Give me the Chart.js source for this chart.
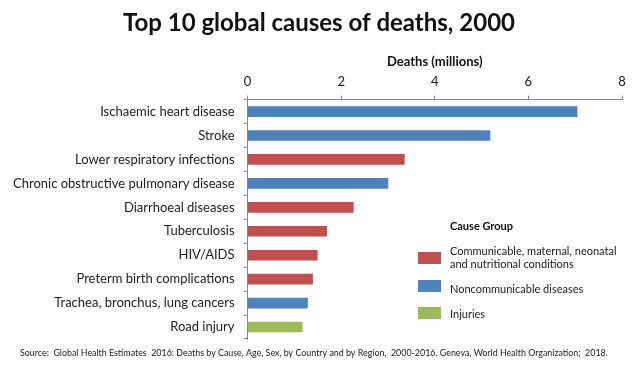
<!DOCTYPE html>
<html>
<head>
<meta charset="utf-8">
<script src="https://cdn.jsdelivr.net/npm/chart.js@4/dist/chart.umd.min.js"></script>
<style>
  html, body { margin: 0; padding: 0; background: #fff; }
  #wrap { width: 640px; height: 369px; position: relative; }
</style>
</head>
<body>
<div id="wrap"><canvas id="chart"></canvas></div>
<script>
const categories = [
  'Ischaemic heart disease',
  'Stroke',
  'Lower respiratory infections',
  'Chronic obstructive pulmonary disease',
  'Diarrhoeal diseases',
  'Tuberculosis',
  'HIV/AIDS',
  'Preterm birth complications',
  'Trachea, bronchus, lung cancers',
  'Road injury'
];
const deaths = [7.04, 5.18, 3.35, 3.0, 2.26, 1.69, 1.49, 1.39, 1.28, 1.17];
const causeGroup = ['ncd', 'ncd', 'cmnn', 'ncd', 'cmnn', 'cmnn', 'cmnn', 'cmnn', 'ncd', 'inj'];
const xTicks = [0, 2, 4, 6, 8];

const groupKeys = ['cmnn', 'ncd', 'inj'];
const groupLabels = [
  ['Communicable, maternal, neonatal', 'and nutritional conditions'],
  ['Noncommunicable diseases'],
  ['Injuries']
];
const groupColors = { cmnn: '#C0504D', ncd: '#4F81BD', inj: '#9BBB59' };

const FONT = 'Lato, "Open Sans", sans-serif';

// title, legend and source note drawn straight on the canvas
const extrasPlugin = {
  id: 'extras',
  afterDraw(chart) {
    const ctx = chart.ctx;
    ctx.save();
    ctx.fillStyle = '#111';
    ctx.textAlign = 'center';
    ctx.textBaseline = 'middle';
    ctx.font = 'bold 24px ' + FONT;
    ctx.fillText('Top 10 global causes of deaths, 2000', 319, 23);

    // legend
    ctx.textAlign = 'left';
    ctx.font = 'bold 11px ' + FONT;
    ctx.fillText('Cause Group', 450, 226);
    ctx.font = '11px ' + FONT;
    const rows = [[251, 264], [289], [314]];
    const boxes = [252, 280, 307];
    groupKeys.forEach((k, i) => {
      ctx.fillStyle = groupColors[k];
      ctx.fillRect(418, boxes[i], 23, 12);
      ctx.fillStyle = '#222';
      groupLabels[i].forEach((t, j) => ctx.fillText(t, 450, rows[i][j]));
    });

    ctx.font = '8.9px ' + FONT;
    ctx.fillStyle = '#222';
    ctx.fillText('Source:  Global Health Estimates  2016: Deaths by Cause, Age, Sex, by Country and by Region,  2000-2016. Geneva, World Health Organization;  2018.', 20, 353);
    ctx.restore();
  }
};

new Chart(document.getElementById('chart'), {
  type: 'bar',
  data: {
    labels: categories,
    datasets: [{
      data: deaths,
      backgroundColor: causeGroup.map(g => groupColors[g]),
      barThickness: 10
    }]
  },
  options: {
    indexAxis: 'y',
    responsive: true,
    maintainAspectRatio: false,
    animation: false,
    layout: { padding: { top: 55, left: 4, right: 18, bottom: 30 } },
    scales: {
      x: {
        position: 'top',
        min: 0,
        max: 8,
        afterBuildTicks: axis => { axis.ticks = xTicks.map(v => ({ value: v })); },
        ticks: { color: '#222', font: { family: FONT, size: 13 }, padding: 6 },
        grid: { drawOnChartArea: false, tickLength: 4, color: '#888' },
        border: { color: '#888' },
        title: {
          display: true,
          text: 'Deaths (millions)',
          color: '#111',
          font: { family: FONT, size: 13, weight: 'bold', lineHeight: 1 },
          padding: { top: 0, bottom: 0 }
        }
      },
      y: {
        ticks: { color: '#222', font: { family: FONT, size: 13 }, padding: 9 },
        grid: { drawOnChartArea: false, tickLength: 4, color: '#888', offset: true },
        border: { color: '#888' }
      }
    },
    plugins: {
      legend: { display: false },
      tooltip: { enabled: false }
    }
  },
  plugins: [extrasPlugin]
});
</script>
</body>
</html>
